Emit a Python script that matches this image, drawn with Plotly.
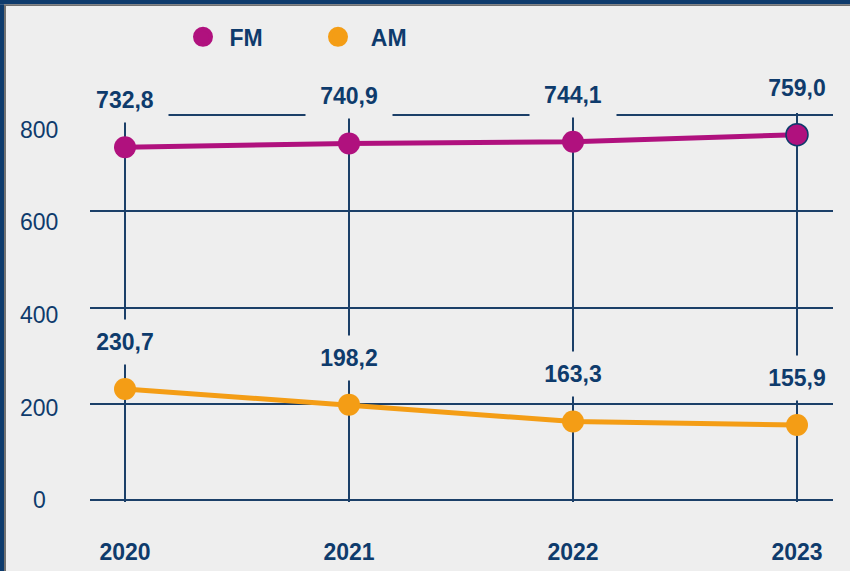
import plotly.graph_objects as go

years = ["2020", "2021", "2022", "2023"]
fm_values = [732.8, 740.9, 744.1, 759.0]
am_values = [230.7, 198.2, 163.3, 155.9]
y_tick_values = [0, 200, 400, 600, 800]
y_tick_labels = ["0", "200", "400", "600", "800"]

NAVY = "#0E3B6C"
GRID = "#1B3F68"
BG = "#EEEEEE"
FM_COLOR = "#B0117E"
AM_COLOR = "#F49D15"
FONT = "Liberation Sans, Arial, sans-serif"

W, H = 850, 571
# target pixel frame: 0 at y=500, 800 at y=115, plot x from 90 to 833
Y0_PX, Y800_PX = 500, 115
K = (Y0_PX - Y800_PX) / 800.0          # px per unit
PADU = 4                                # range padding (units) so edge gridlines draw
ML, MR = 90, 17
MT = Y800_PX - PADU * K
MB = H - Y0_PX - PADU * K
PW = W - ML - MR
PH = H - MT - MB


def px_x(px):
    return (px - ML) / PW


def px_y(py):
    return (H - MB - py) / PH


# tick label scale: 0 at y=500, 800 at y=130
K2 = (Y0_PX - 130) / 800.0
y2_range = [-(PADU * K) / K2, (Y0_PX - MT) / K2]

fig = go.Figure()

fig.add_trace(go.Scatter(
    x=years, y=fm_values, mode="lines+markers", name="FM", showlegend=False,
    line=dict(color=FM_COLOR, width=5),
    marker=dict(color=FM_COLOR, size=22,
                line=dict(color=NAVY, width=[0, 0, 0, 1.5])),
    cliponaxis=False, hoverinfo="skip",
))
fig.add_trace(go.Scatter(
    x=years, y=am_values, mode="lines+markers", name="AM", showlegend=False,
    line=dict(color=AM_COLOR, width=5),
    marker=dict(color=AM_COLOR, size=22),
    cliponaxis=False, hoverinfo="skip",
))
# legend entries (markers only)
fig.add_trace(go.Scatter(x=[None], y=[None], mode="markers", name="\u00a0FM",
                         marker=dict(color=FM_COLOR, size=16,
                                     line=dict(color=FM_COLOR, width=4))))
fig.add_trace(go.Scatter(x=[None], y=[None], mode="markers", name="\u00a0\u00a0AM",
                         marker=dict(color=AM_COLOR, size=16,
                                     line=dict(color=AM_COLOR, width=4))))

annotations = []
for series in (fm_values, am_values):
    for i, v in enumerate(series):
        annotations.append(dict(
            x=i, y=v, xref="x", yref="y", yshift=47,
            text=f"{v:.1f}".replace(".", ","), showarrow=False,
            font=dict(family=FONT, size=23, color=NAVY, weight="bold"),
            bgcolor=BG, width=70, height=28, borderpad=8,
        ))
for v, lab in zip(y_tick_values, y_tick_labels):
    annotations.append(dict(
        x=px_x(39), y=v, xref="paper", yref="y2", xanchor="center", yanchor="middle",
        text=lab, showarrow=False,
        font=dict(family=FONT, size=23, color=NAVY),
    ))

shapes = [
    dict(type="rect", xref="paper", yref="paper", x0=-0.3, x1=1.3,
         y0=px_y(4.3), y1=px_y(-20), fillcolor=NAVY, line_width=0, layer="above"),
    dict(type="rect", xref="paper", yref="paper", x0=px_x(4), x1=1.3,
         y0=px_y(6), y1=px_y(4.3), fillcolor="#707070", line_width=0, layer="above"),
    dict(type="rect", xref="paper", yref="paper", x0=-0.3, x1=px_x(4),
         y0=-0.5, y1=px_y(4.3), fillcolor=NAVY, line_width=0, layer="above"),
    dict(type="rect", xref="paper", yref="paper", x0=px_x(4), x1=px_x(6),
         y0=-0.5, y1=px_y(6), fillcolor="#707070", line_width=0, layer="above"),
]

fig.update_layout(
    width=W, height=H,
    margin=dict(l=ML, r=MR, t=MT, b=MB, pad=0, autoexpand=False),
    paper_bgcolor=BG, plot_bgcolor=BG,
    font=dict(family=FONT, color=NAVY, size=23),
    showlegend=True,
    legend=dict(orientation="h", x=px_x(183), y=px_y(37), xanchor="left", yanchor="middle",
                bgcolor="rgba(0,0,0,0)", font=dict(family=FONT, size=23, color=NAVY, weight="bold"),
                entrywidth=90, itemclick=False, itemdoubleclick=False),
    hovermode=False,
    xaxis=dict(type="category", range=[-35 / 224, 3 + 36 / 224], showgrid=True,
               gridcolor=GRID, gridwidth=1.5, zeroline=False, showline=False,
               ticks="", ticklabelstandoff=34, automargin=False,
               tickfont=dict(family=FONT, size=23, color=NAVY, weight="bold"),
               fixedrange=True),
    yaxis=dict(range=[-PADU, 800 + PADU], tickvals=y_tick_values, showticklabels=False,
               showgrid=True, gridcolor=GRID, gridwidth=1.5, zeroline=False,
               showline=False, ticks="", fixedrange=True, automargin=False),
    yaxis2=dict(range=y2_range, overlaying="y", side="left",
                showticklabels=False, showgrid=False, zeroline=False,
                showline=False, ticks="", fixedrange=True, automargin=False),
    annotations=annotations,
    shapes=shapes,
)

fig.write_html(
    "out.html",
    config={"displayModeBar": False},
    post_script="document.body.style.margin='0';document.body.style.overflow='hidden';",
)
